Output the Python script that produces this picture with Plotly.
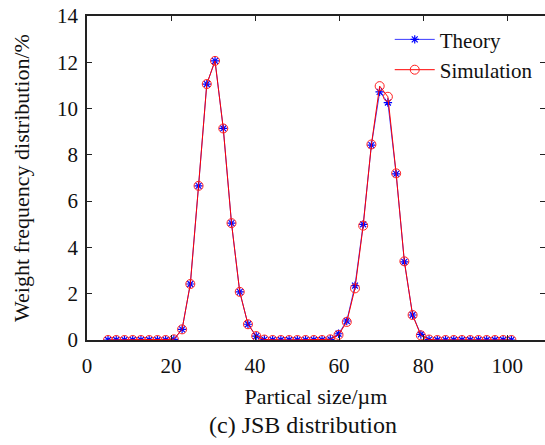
import plotly.graph_objects as go

# Particle size (µm) sample points
size_um = [5.00, 6.96, 8.92, 10.88, 12.84, 14.80, 16.76, 18.71, 20.67, 22.63,
           24.59, 26.55, 28.51, 30.47, 32.43, 34.39, 36.35, 38.31, 40.27, 42.22,
           44.18, 46.14, 48.10, 50.06, 52.02, 53.98, 55.94, 57.90, 59.86, 61.82,
           63.78, 65.73, 67.69, 69.65, 71.61, 73.57, 75.53, 77.49, 79.45, 81.41,
           83.37, 85.33, 87.29, 89.24, 91.20, 93.16, 95.12, 97.08, 99.04, 101.00]

theory = [0, 0, 0, 0, 0, 0, 0, 0, 0.03, 0.46,
          2.42, 6.66, 11.06, 12.06, 9.14, 5.05, 2.08, 0.68, 0.17, 0.02,
          0, 0, 0, 0, 0, 0, 0, 0.03, 0.27, 0.82,
          2.35, 5.00, 8.42, 10.72, 10.26, 7.18, 3.38, 1.08, 0.24, 0.02,
          0, 0, 0, 0, 0, 0, 0, 0, 0, 0]

simulation = [0, 0, 0, 0, 0, 0, 0, 0, 0.03, 0.46,
              2.42, 6.66, 11.06, 12.06, 9.14, 5.05, 2.08, 0.68, 0.17, 0.02,
              0, 0, 0, 0, 0, 0, 0, 0.03, 0.22, 0.78,
              2.23, 4.94, 8.45, 10.97, 10.51, 7.20, 3.40, 1.08, 0.20, 0.02,
              0, 0, 0, 0, 0, 0, 0, 0, 0, 0]

x_ticks = [0, 20, 40, 60, 80, 100]
y_ticks = [0, 2, 4, 6, 8, 10, 12, 14]

FONT = "Liberation Serif, Times New Roman, serif"

fig = go.Figure()
fig.add_trace(go.Scatter(
    x=size_um, y=theory, name="Theory", mode="lines+markers",
    line=dict(color="#3a3aff", width=1),
    marker=dict(symbol="asterisk-open", size=7, color="#0000ff",
                line=dict(color="#0000ff", width=1.2)),
))
fig.add_trace(go.Scatter(
    x=size_um, y=simulation, name="Simulation", mode="lines+markers",
    line=dict(color="#ff0000", width=1),
    marker=dict(symbol="circle-open", size=9, color="#ff2020",
                line=dict(color="#ff2020", width=1)),
))

axis_common = dict(
    showline=True, linecolor="#222222", linewidth=1.6, mirror="ticks",
    ticks="inside", ticklen=5, tickwidth=1.2, tickcolor="#222222",
    showgrid=False, zeroline=False, automargin=False,
    tickfont=dict(family=FONT, size=21, color="#111111"),
)

fig.update_layout(
    width=545, height=445,
    margin=dict(l=87, r=0, t=16, b=105),
    paper_bgcolor="white", plot_bgcolor="white",
    font=dict(family=FONT, color="#111111"),
    xaxis=dict(range=[0, 109], tickvals=x_ticks, ticklabelstandoff=6,
               title=dict(text="Partical size/µm", font=dict(family=FONT, size=22), standoff=12),
               **axis_common),
    yaxis=dict(range=[0, 14], tickvals=y_ticks, ticklabelstandoff=3,
               title=dict(text="Weight frequency distribution/%", font=dict(family=FONT, size=22), standoff=21),
               **axis_common),
    legend=dict(x=0.661, y=0.99, xanchor="left", yanchor="top",
                bgcolor="rgba(255,255,255,0)", borderwidth=0,
                font=dict(family=FONT, size=21), itemwidth=40, tracegroupgap=0),
    showlegend=True,
    annotations=[dict(text="(c) JSB distribution", xref="paper", yref="paper",
                      x=(303 - 87) / 458, y=(340 - 425) / 324, xanchor="center", yanchor="middle",
                      showarrow=False, font=dict(family=FONT, size=24, color="#111111"))],
)

fig.write_html("out.html", config={"displayModeBar": False},
               post_script="document.body.style.margin='0';")
